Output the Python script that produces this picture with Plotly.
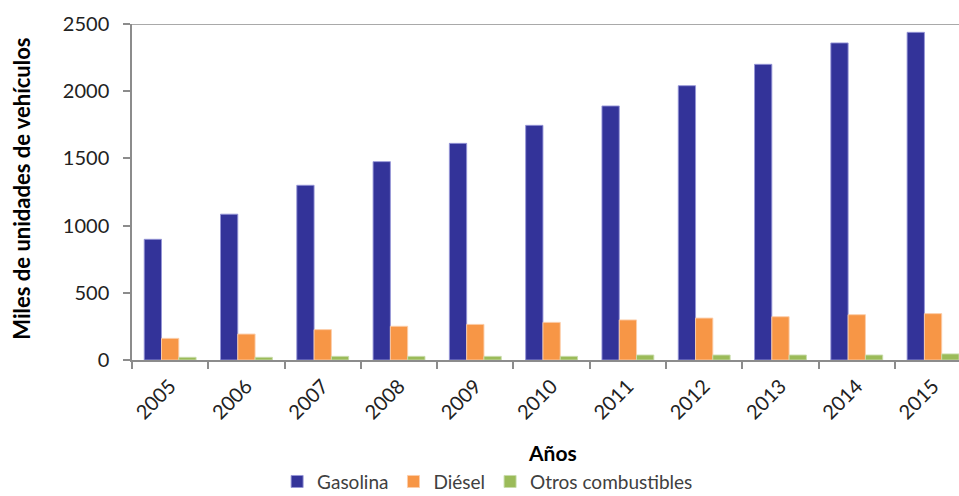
import plotly.graph_objects as go

# Parque vehicular por tipo de combustible (miles de unidades)
anios = ["2005", "2006", "2007", "2008", "2009", "2010",
         "2011", "2012", "2013", "2014", "2015"]
gasolina = [898, 1085, 1300, 1476, 1612, 1746, 1890, 2041, 2200, 2359, 2438]
diesel = [161, 193, 226, 251, 265, 280, 298, 312, 322, 337, 345]
otros = [20, 20, 27, 27, 27, 27, 37, 37, 37, 37, 45]
y_ticks = [0, 500, 1000, 1500, 2000, 2500]

FONT = "Lato"
AXIS_GRAY = "#8c8c8c"

fig = go.Figure()
series = [
    ("Gasolina", gasolina, "#333399", "rgba(150,150,215,0.9)"),
    ("Diésel", diesel, "#F79646", "rgba(252,205,170,0.9)"),
    ("Otros combustibles", otros, "#9BBB59", "rgba(200,220,170,0.9)"),
]
for name, vals, color, edge in series:
    fig.add_trace(go.Bar(
        x=anios, y=vals, name=name,
        marker=dict(color=color, line=dict(color=edge, width=1)),
    ))

fig.update_layout(
    width=959, height=496,
    margin=dict(l=132, r=0, t=24, b=136, autoexpand=False),
    paper_bgcolor="white", plot_bgcolor="white",
    barmode="group", bargap=0.32, bargroupgap=0,
    font=dict(family=FONT, size=20, color="#222222"),
    showlegend=True,
    legend=dict(
        orientation="h", x=0.43, xanchor="center", y=-0.362, yanchor="middle",
        font=dict(family=FONT, size=19, color="#404040"),
        itemwidth=30, tracegroupgap=0, borderwidth=0,
    ),
    xaxis=dict(
        type="category", range=[-0.5, 10.34], automargin=False,
        tickangle=-45, tickson="boundaries",
        ticks="outside", ticklen=7, tickwidth=1.5, tickcolor=AXIS_GRAY,
        showline=True, linecolor=AXIS_GRAY, linewidth=1.5,
        showgrid=False, zeroline=False, ticklabelstandoff=5,
        tickfont=dict(family=FONT, size=20, color="#222222"),
    ),
    yaxis=dict(
        range=[0, 2500], tickvals=y_ticks, automargin=False,
        ticks="outside", ticklen=7, tickwidth=1.5, tickcolor=AXIS_GRAY,
        showline=True, linecolor=AXIS_GRAY, linewidth=1.5,
        showgrid=False, zeroline=False, ticklabelstandoff=10,
        tickfont=dict(family=FONT, size=20, color="#222222"),
    ),
    annotations=[
        dict(text="<b>Miles de unidades de vehículos</b>", textangle=-90,
             xref="paper", yref="paper", x=-0.133, y=0.51,
             xanchor="center", yanchor="middle", showarrow=False,
             font=dict(family=FONT, size=22, color="#000000")),
        dict(text="<b>Años</b>",
             xref="paper", yref="paper", x=0.508, y=-0.274,
             xanchor="center", yanchor="middle", showarrow=False,
             font=dict(family=FONT, size=21, color="#000000")),
    ],
    shapes=[
        dict(type="line", xref="paper", yref="y", x0=0, x1=1, y0=2500, y1=2500,
             line=dict(color=AXIS_GRAY, width=1.5)),
    ],
)

fig.write_html("out.html")
